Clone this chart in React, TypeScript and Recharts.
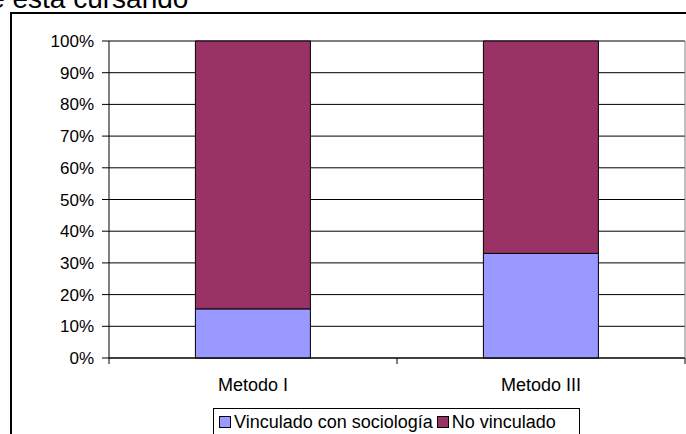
import React from 'react';
import { BarChart, Bar, XAxis, YAxis, CartesianGrid, Legend } from 'recharts';

const categories = ['Metodo I', 'Metodo III'];
const vinculado = [15.5, 33];
const noVinculado = [84.5, 67];
const yTicks = [0, 0.1, 0.2, 0.3, 0.4, 0.5, 0.6, 0.7, 0.8, 0.9, 1];

const series = [
  { key: 'vinculado', name: 'Vinculado con sociología', color: '#9999FF' },
  { key: 'noVinculado', name: 'No vinculado', color: '#993366' },
];

const data = categories.map((c, i) => ({ name: c, vinculado: vinculado[i], noVinculado: noVinculado[i] }));

const FONT = '"Liberation Sans", Arial, sans-serif';

function CategoryTick(props: any) {
  const { x, y, payload, index, visibleTicksCount } = props;
  const off = payload.offset || 0;
  return (
    <g>
      <line x1={x - off} x2={x - off} y1={y - 8} y2={y - 2} stroke="#000" />
      {index === visibleTicksCount - 1 && (
        <line x1={x + off} x2={x + off} y1={y - 8} y2={y - 2} stroke="#000" />
      )}
      <text x={x} y={y + 25} textAnchor="middle" fontSize={18} fontFamily={FONT} fill="#000">
        {payload.value}
      </text>
    </g>
  );
}

function LegendBox() {
  return (
    <div
      style={{
        display: 'flex',
        alignItems: 'center',
        border: '1px solid #000',
        padding: '0 4px 0 5px',
        fontFamily: FONT,
        fontSize: 18,
        lineHeight: '20px',
        height: 27,
        boxSizing: 'border-box',
        background: '#fff',
        whiteSpace: 'nowrap',
      }}
    >
      {series.map((s, i) => (
        <span key={s.key} style={{ display: 'inline-flex', alignItems: 'center', marginLeft: i ? 4 : 0 }}>
          <span style={{ width: 10, height: 10, background: s.color, border: '1px solid #000', marginRight: 3 }} />
          {s.name}
        </span>
      ))}
    </div>
  );
}

export default function App() {
  return (
    <div style={{ position: 'fixed', left: 0, top: 0, width: 686, height: 434, overflow: 'hidden', background: '#fff' }}>
      <div
        style={{
          position: 'absolute',
          left: 10,
          top: 12,
          width: 720,
          height: 500,
          border: '2px solid #000',
        }}
      />
      <div style={{ position: 'absolute', left: 0, top: 0 }}>
        <BarChart
          width={686}
          height={434}
          data={data}
          stackOffset="expand"
          barCategoryGap="30%"
          margin={{ top: 41, right: 0, left: 49, bottom: 36 }}
        >
          <text x={-42} y={8} fontFamily={FONT} fontSize={28} fill="#000">
            que está cursando
          </text>
          <CartesianGrid vertical={false} stroke="#000" strokeWidth={1} />
          <XAxis
            dataKey="name"
            height={40}
            axisLine={{ stroke: '#000' }}
            tickLine={false}
            tick={<CategoryTick />}
            interval={0}
          />
          <YAxis
            yAxisId={0}
            domain={[0, 1]}
            ticks={yTicks}
            width={60}
            tickFormatter={(v: number) => `${Math.round(v * 100)}%`}
            axisLine={{ stroke: '#000' }}
            tickLine={{ stroke: '#000' }}
            tickSize={7}
            tickMargin={8}
            tick={{ fontSize: 17, fill: '#000', fontFamily: FONT }}
          />
          <YAxis
            yAxisId="r"
            orientation="right"
            width={1}
            tick={false}
            tickLine={false}
            axisLine={{ stroke: '#808080' }}
          />
          <Legend
            verticalAlign="middle"
            align="center"
            layout="horizontal"
            content={<LegendBox />}
            wrapperStyle={{ left: 213, top: 408, width: 367, height: 27 }}
          />
          {series.map((s) => (
            <Bar
              key={s.key}
              dataKey={s.key}
              name={s.name}
              stackId="a"
              fill={s.color}
              stroke="#000"
              strokeWidth={1}
              isAnimationActive={false}
            />
          ))}
        </BarChart>
      </div>
    </div>
  );
}
